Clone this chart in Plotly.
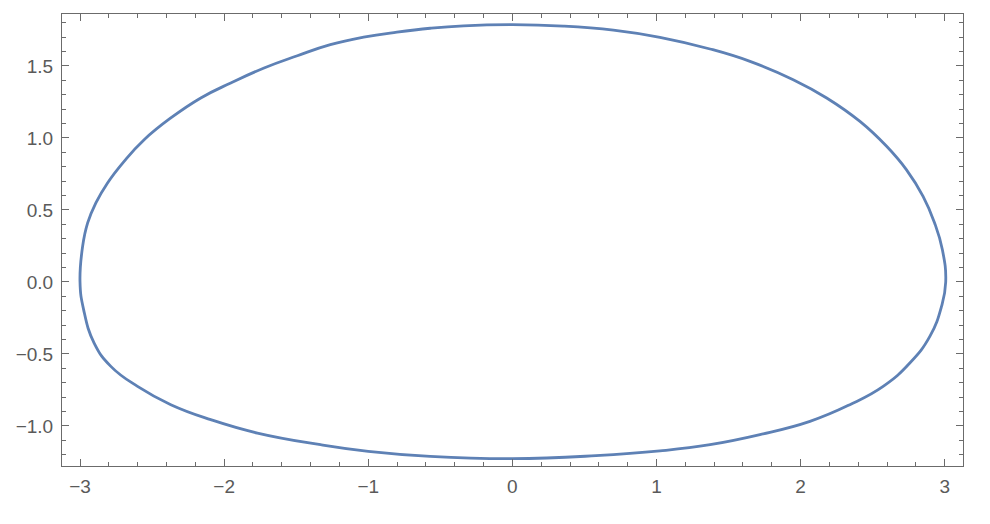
import plotly.graph_objects as go

# closed curve: upper arc left to right, then lower arc right to left
upper_x = [-3.0, -2.982, -2.947, -2.890, -2.809, -2.694, -2.555, -2.370, -2.162, -1.954,
           -1.723, -1.492, -1.263, -1.032, -0.801, -0.570, -0.339, 0.0, 0.354, 0.701,
           1.024, 1.372, 1.649, 1.949, 2.181, 2.412, 2.597, 2.734, 2.850, 2.930, 2.984, 3.007]
upper_y = [0.0, 0.247, 0.410, 0.549, 0.688, 0.838, 0.988, 1.139, 1.278, 1.382,
           1.486, 1.571, 1.648, 1.700, 1.735, 1.762, 1.779, 1.787, 1.777, 1.749,
           1.699, 1.618, 1.532, 1.405, 1.278, 1.115, 0.942, 0.780, 0.594, 0.410, 0.224, 0.0]

lower_x = [2.978, 2.897, 2.758, 2.573, 2.342, 2.065, 1.718, 1.372, 1.024, 0.580,
           0.0, -0.570, -1.0, -1.331, -1.769, -2.093, -2.370, -2.601, -2.786, -2.902,
           -2.975, -3.0]
lower_y = [-0.169, -0.378, -0.563, -0.725, -0.852, -0.968, -1.060, -1.130, -1.173, -1.206,
           -1.227, -1.211, -1.176, -1.130, -1.049, -0.956, -0.852, -0.725, -0.586, -0.424,
           -0.192, 0.0]

x_ticks = [-3, -2, -1, 0, 1, 2, 3]
y_ticks = [-1.0, -0.5, 0.0, 0.5, 1.0, 1.5]

curve_color = "#5E81B5"
frame_color = "#6b6b6b"
label_color = "#5a5a5a"

fig = go.Figure()
fig.add_trace(go.Scatter(x=upper_x + lower_x, y=upper_y + lower_y, mode='lines',
                         line=dict(color=curve_color, width=2.8, shape='spline', smoothing=1.3),
                         hoverinfo='skip'))

axis_common = dict(showgrid=False, zeroline=False, showline=True, linecolor=frame_color, linewidth=1,
                   mirror='allticks', ticks='inside', ticklen=7, tickcolor=frame_color, tickwidth=1,
                   tickfont=dict(family="Liberation Sans, Arial, sans-serif", size=19, color=label_color))

fig.update_xaxes(range=[-3.125, 3.127], tickvals=x_ticks, ticklabelstandoff=3,
                 minor=dict(dtick=0.2, ticks='inside', ticklen=4, tickcolor=frame_color, tickwidth=1),
                 **axis_common)
fig.update_yaxes(range=[-1.278, 1.861], tickvals=y_ticks, tickformat='.1f', ticklabelstandoff=4,
                 minor=dict(dtick=0.1, ticks='inside', ticklen=4, tickcolor=frame_color, tickwidth=1),
                 **axis_common)

fig.update_layout(width=990, height=524, showlegend=False,
                  paper_bgcolor='white', plot_bgcolor='white',
                  margin=dict(l=62, r=27, t=14, b=58))

# drop the page's default body margin so the figure sits at the window origin
fig.write_html("out.html", config={'displayModeBar': False},
               post_script="document.body.style.margin='0';")
